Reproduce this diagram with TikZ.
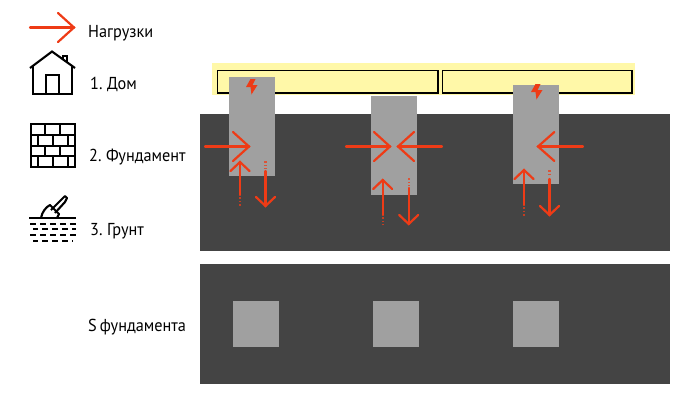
\documentclass[tikz,border=0pt]{standalone}
\usepackage{fontspec}
\setmainfont[WordSpace=0.7,FakeStretch=0.94]{PT Sans}
\definecolor{loadred}{HTML}{EE3B16}
\definecolor{soil}{HTML}{444444}
\definecolor{pile}{HTML}{A0A0A0}
\definecolor{band}{HTML}{FFF8A8}
\tikzset{
  soilbox/.style={fill=soil,draw=none},
  pilebox/.style={fill=pile,draw=none},
  loadline/.style={draw=loadred,line width=2.2pt,line cap=round,line join=miter},
  dotline/.style={draw=loadred,line width=2.2pt,dash pattern=on 1.8pt off 1.8pt,opacity=.75},
  icon/.style={draw=black,line width=2.1pt},
  label/.style={anchor=west,inner sep=0pt,font=\fontsize{17.3}{20}\selectfont,text=black},
  slab/.style={draw=black,line width=1.1pt,fill=band}
}
\newcommand{\vload}[6]{%
  \draw[loadline] (#1,#2) -- (#1,#4);
  \draw[loadline] (#1-9.5,#3) -- (#1,#2) -- (#1+9.5,#3);
  \draw[dotline] (#1,#5) -- (#1,#6);
}
\newcommand{\hload}[3]{%
  \draw[loadline] (#1,#3) -- (#2,#3);
  \draw[loadline] ({#2+(#1-#2)*16/44},#3-14.5) -- (#2,#3) -- ({#2+(#1-#2)*16/44},#3+14.5);
}
\newcommand{\bolt}[2]{%
  \fill[loadred,shift={(#1,#2)}] (-0.5,-8) -- (-5,0) -- (-0.5,0) -- (0.5,7.5) -- (6.5,-2) -- (1.5,-2) -- (4.5,-8) -- cycle;
}
\begin{document}
\begin{tikzpicture}[x=1pt,y=-1pt]
\useasboundingbox (0,0) rectangle (700,400);
% soil
\fill[soilbox] (200,114) rectangle (670,251);
\fill[soilbox] (200,264) rectangle (670,384);
% house band
\fill[band] (212,63) rectangle (635,95);
\draw[slab] (217.5,70.5) rectangle (438,93);
\draw[slab] (442.5,70.5) rectangle (632,93);
% piles
\fill[pilebox] (229,77) rectangle (275,176);
\fill[pilebox] (371,96) rectangle (417,195);
\fill[pilebox] (513,85) rectangle (559,184);
% footprints
\fill[pilebox] (233,301) rectangle (279,347);
\fill[pilebox] (373,301) rectangle (419,347);
\fill[pilebox] (513,301) rectangle (559,347);
% bolts
\bolt{251}{87}
\bolt{536}{92}
% legend arrow
\hload{30}{74}{27.5}
% pile loads
\hload{205}{249}{146.5}
\hload{346}{390}{146.5}
\hload{442}{398}{146.5}
\hload{583}{538}{146.5}
\vload{240}{162}{171}{195}{197}{207}
\vload{265.5}{206}{197}{171}{161}{169}
\vload{382.7}{180}{189}{215}{217}{225}
\vload{408.7}{224}{215}{188}{178}{186}
\vload{524}{170}{179}{205}{207}{216}
\vload{549.5}{215}{206}{179}{170}{177}
% house icon
\draw[icon,line join=miter] (30,68) -- (52,51.5) -- (75,68);
\draw[icon] (33,66) -- (33,94) -- (72,94) -- (72,66);
\draw[icon] (46,94) -- (46,75) -- (59,75) -- (59,94);
\draw[icon,line width=1.4pt] (63,59) -- (63,56) -- (67,56) -- (67,63);
% brick icon
\draw[icon] (31,124) rectangle (75,167);
\draw[icon] (31,135) -- (75,135) (31,146) -- (75,146) (31,156) -- (75,156);
\draw[icon] (45,124) -- (45,135) (60,124) -- (60,135)
            (38,135) -- (38,146) (53,135) -- (53,146) (68,135) -- (68,146)
            (45,146) -- (45,156) (60,146) -- (60,156)
            (38,156) -- (38,167) (53,156) -- (53,167) (68,156) -- (68,167);
% soil icon
\draw[icon] (29,218) -- (76,218);
\draw[icon,dash pattern=on 6pt off 4pt] (30,224) -- (76,224) (30,235) -- (76,235);
\draw[icon,dash pattern=on 6pt off 4pt,dash phase=1pt] (33,229) -- (76,229) (33,241) -- (73,241);
\draw[icon,line join=round] (41,218) .. controls (42,212) and (46,207) .. (50,205) -- (59,214) -- (57,218);
\draw[icon,line join=round] (51,210) -- (61,200) -- (65,196) -- (67,198) -- (65,202) -- (55,213);
% labels
\node[label] (l0) at (88,33) {Нагрузки};
\node[label] (l1) at (90,84) {1. Дом};
\node[label] (l2) at (89,157) {2. Фундамент};
\node[label] (l3) at (90,231) {3. Грунт};
\node[label] (l4) at (88,327) {S фундамента};
\end{tikzpicture}
\end{document}
